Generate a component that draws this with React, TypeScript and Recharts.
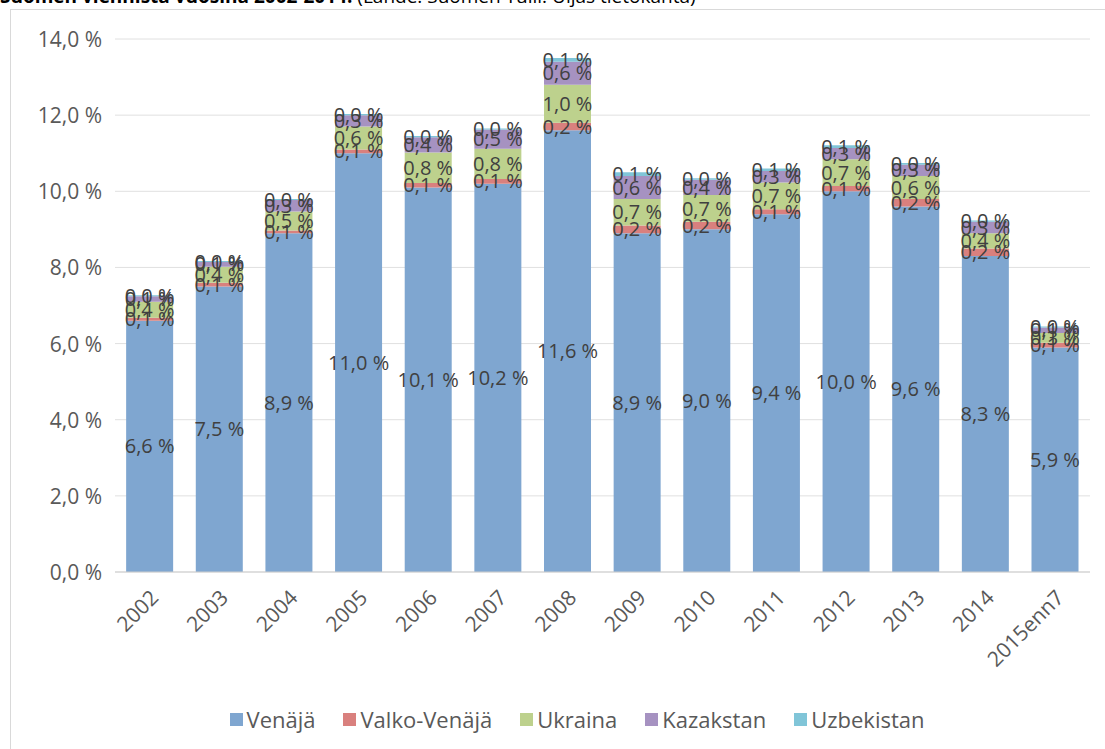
import { Bar, BarChart, CartesianGrid, LabelList, XAxis, YAxis } from "recharts";

const years = [
	"2002", "2003", "2004", "2005", "2006", "2007", "2008",
	"2009", "2010", "2011", "2012", "2013", "2014", "2015enn7",
];

const venaja = [6.6, 7.5, 8.9, 11.0, 10.1, 10.2, 11.6, 8.9, 9.0, 9.4, 10.0, 9.6, 8.3, 5.9];
const valkoVenaja = [0.08, 0.1, 0.07, 0.1, 0.12, 0.12, 0.2, 0.2, 0.2, 0.13, 0.14, 0.2, 0.2, 0.12];
const ukraina = [0.42, 0.42, 0.5, 0.6, 0.8, 0.8, 1.0, 0.7, 0.7, 0.7, 0.7, 0.6, 0.4, 0.26];
const kazakstan = [0.14, 0.12, 0.3, 0.3, 0.4, 0.5, 0.6, 0.6, 0.4, 0.3, 0.3, 0.3, 0.3, 0.14];
const uzbekistan = [0.03, 0.03, 0.03, 0.03, 0.03, 0.03, 0.1, 0.1, 0.04, 0.07, 0.07, 0.04, 0.03, 0.03];

const yTicks = [0, 2, 4, 6, 8, 10, 12, 14];

const series = [
	{ key: "venaja", name: "Venäjä", color: "#7fa6d0" },
	{ key: "valko", name: "Valko-Venäjä", color: "#d9807e" },
	{ key: "ukraina", name: "Ukraina", color: "#bdd18d" },
	{ key: "kazakstan", name: "Kazakstan", color: "#a692c1" },
	{ key: "uzbekistan", name: "Uzbekistan", color: "#80c5d8" },
];

const data = years.map((year, i) => ({
	year,
	venaja: venaja[i],
	valko: valkoVenaja[i],
	ukraina: ukraina[i],
	kazakstan: kazakstan[i],
	uzbekistan: uzbekistan[i],
}));

const FONT = "'Open Sans', sans-serif";

// non-breaking space so the label text never wraps inside a narrow bar
function formatPercent(value: unknown): string {
	const n = typeof value === "number" ? value : Number(value);
	return `${n.toFixed(1).replace(".", ",")}\u00a0%`;
}

function XTick(props: any) {
	const { x, y, payload } = props;
	const ax = x + 10;
	const ay = y + 19;
	return (
		<text
			x={ax}
			y={ay}
			textAnchor="end"
			transform={`rotate(-45, ${ax}, ${ay})`}
			fill="#595959"
			fontSize={21}
			fontFamily={FONT}
		>
			{payload.value}
		</text>
	);
}

function YTick(props: any) {
	const { x, y, payload } = props;
	return (
		<text
			x={x - 5}
			y={y}
			textAnchor="end"
			dominantBaseline="central"
			fill="#595959"
			fontSize={21}
			fontFamily={FONT}
		>
			{formatPercent(payload.value)}
		</text>
	);
}

export default function App() {
	return (
		<div
			style={{
				position: "absolute",
				left: 0,
				top: 0,
				width: 1105,
				height: 749,
				overflow: "hidden",
				background: "#fff",
				fontFamily: FONT,
			}}
		>
			<div
				style={{
					position: "absolute",
					left: 0,
					top: -13,
					fontSize: 19,
					lineHeight: "19px",
					whiteSpace: "nowrap",
					color: "#000",
				}}
			>
				<b>Suomen viennistä vuosina 2002-2014.</b> (Lähde: Suomen Tulli. Uljas tietokanta)
			</div>
			<div
				style={{
					position: "absolute",
					left: 10,
					top: 9,
					width: 1130,
					height: 760,
					border: "1px solid #d9d9d9",
				}}
			/>
			<div style={{ position: "absolute", left: 0, top: 0 }}>
				<BarChart
					width={1105}
					height={749}
					data={data}
					margin={{ top: 39, right: 15, left: 10, bottom: 97 }}
					barCategoryGap="16%"
				>
					<CartesianGrid vertical={false} stroke="#e0e0e0" />
					<XAxis
						dataKey="year"
						height={80}
						interval={0}
						tickLine={false}
						axisLine={{ stroke: "#cfcfcf" }}
						tick={<XTick />}
					/>
					<YAxis
						width={105}
						domain={[0, 14]}
						ticks={yTicks}
						axisLine={false}
						tickLine={false}
						tick={<YTick />}
					/>
					{series.map((s) => (
						<Bar
							key={s.key}
							dataKey={s.key}
							name={s.name}
							stackId="a"
							fill={s.color}
							isAnimationActive={false}
						>
							<LabelList
								dataKey={s.key}
								position="center"
								formatter={formatPercent}
								fill="#404040"
								fontSize={20}
								fontFamily={FONT}
							/>
						</Bar>
					))}
				</BarChart>
			</div>
			<div
				style={{
					position: "absolute",
					left: 12,
					width: 1130,
					top: 704,
					display: "flex",
					justifyContent: "center",
					gap: 28,
					fontSize: 22,
					color: "#595959",
				}}
			>
				{series.map((s) => (
					<div key={s.key} style={{ display: "flex", alignItems: "center" }}>
						<span
							style={{
								display: "inline-block",
								width: 13,
								height: 13,
								background: s.color,
								marginRight: 4,
							}}
						/>
						<span>{s.name}</span>
					</div>
				))}
			</div>
		</div>
	);
}
